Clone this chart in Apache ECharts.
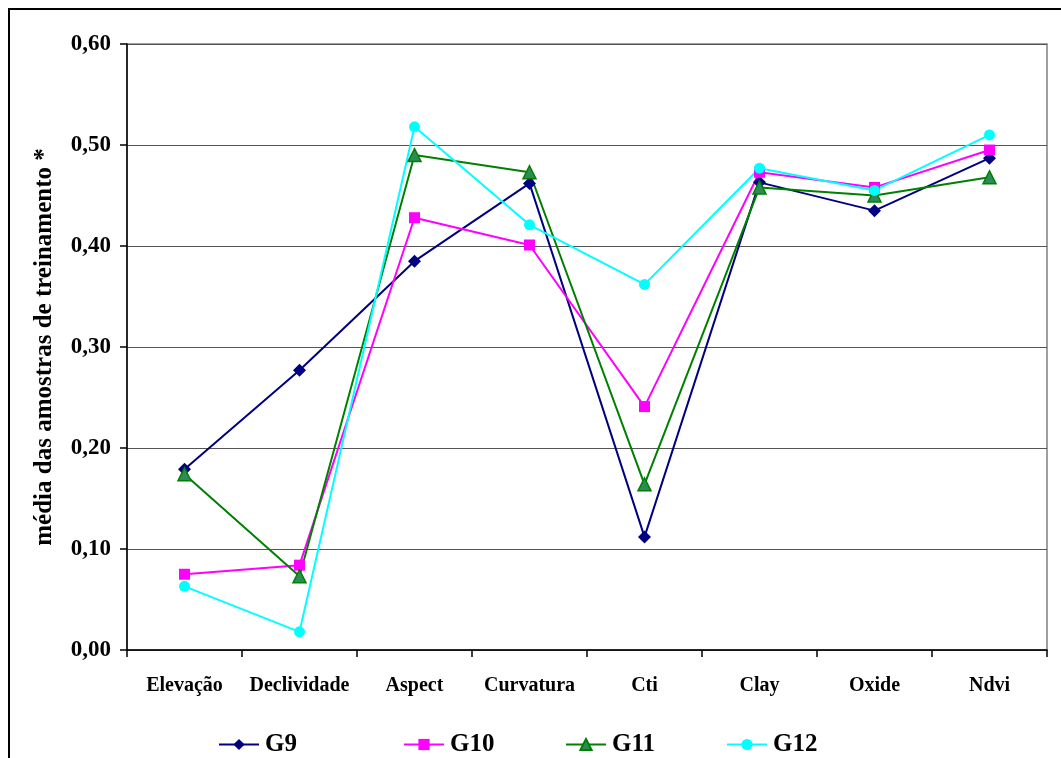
<!DOCTYPE html>
<html>
<head>
<meta charset="utf-8">
<script src="https://cdn.jsdelivr.net/npm/echarts@6/dist/echarts.min.js"></script>
<style>
  html, body { margin: 0; padding: 0; background: #fff; }
  #chart { width: 1061px; height: 758px; }
</style>
</head>
<body>
<div id="chart"></div>
<script>
// Variables (categories) and mean training-sample values per group
const categories = ['Elevação', 'Declividade', 'Aspect', 'Curvatura', 'Cti', 'Clay', 'Oxide', 'Ndvi'];
const g9  = [0.179, 0.277, 0.385, 0.462, 0.112, 0.463, 0.435, 0.487];
const g10 = [0.075, 0.084, 0.428, 0.401, 0.241, 0.473, 0.458, 0.495];
const g11 = [0.174, 0.073, 0.490, 0.473, 0.164, 0.458, 0.450, 0.468];
const g12 = [0.063, 0.018, 0.518, 0.421, 0.362, 0.477, 0.455, 0.510];
const yTicks = [0, 0.1, 0.2, 0.3, 0.4, 0.5, 0.6];

const FONT = '"Liberation Serif", "Times New Roman", serif';

const chart = echarts.init(document.getElementById('chart'), null, { renderer: 'canvas' });

function makeSeries(name, data, symbol, size, lineColor, fillColor) {
  return {
    name: name,
    type: 'line',
    data: data,
    symbol: symbol,
    symbolSize: size,
    showAllSymbol: true,
    lineStyle: { color: lineColor, width: 2 },
    itemStyle: { color: fillColor, borderColor: lineColor, borderWidth: symbol === 'triangle' ? 1.5 : 0 },
    emphasis: { disabled: true },
    animation: false,
    z: 3
  };
}

function makeLegend(name, left) {
  return {
    data: [name],
    left: left,
    top: 727,
    itemWidth: 40,
    itemHeight: 14,
    itemGap: 0,
    textStyle: { fontFamily: FONT, fontWeight: 'bold', fontSize: 25, color: '#000', padding: [0, 0, 0, 1] }
  };
}

chart.setOption({
  backgroundColor: '#fff',
  animation: false,
  graphic: [{
    type: 'rect',
    shape: { x: 9, y: 9, width: 1200, height: 900 },
    style: { fill: 'none', stroke: '#000', lineWidth: 2 },
    silent: true,
    z: -1
  }],
  grid: {
    left: 127, top: 44, right: 14, bottom: 108,
    show: true, borderColor: '#808080', borderWidth: 1.5, backgroundColor: 'transparent'
  },
  legend: [
    makeLegend('G9', 213),
    makeLegend('G10', 398),
    makeLegend('G11', 560),
    makeLegend('G12', 721)
  ],
  xAxis: {
    type: 'category',
    data: categories,
    boundaryGap: true,
    axisLine: { show: true, lineStyle: { color: '#000', width: 1.5 } },
    axisTick: { show: true, length: 7, interval: 0, lineStyle: { color: '#000', width: 1.5 } },
    axisLabel: {
      interval: 0, margin: 26,
      fontFamily: FONT, fontWeight: 'bold', fontSize: 20, color: '#000'
    },
    splitLine: { show: false }
  },
  yAxis: {
    type: 'value',
    min: yTicks[0],
    max: yTicks[yTicks.length - 1],
    interval: 0.1,
    name: 'média das amostras de treinamento *',
    nameLocation: 'middle',
    nameGap: 70,
    nameRotate: 90,
    nameTextStyle: { fontFamily: FONT, fontWeight: 'bold', fontSize: 25, color: '#000' },
    axisLine: { show: true, lineStyle: { color: '#000', width: 1.5 } },
    axisTick: { show: true, length: 7, lineStyle: { color: '#000', width: 1.5 } },
    axisLabel: {
      margin: 16,
      fontFamily: FONT, fontWeight: 'bold', fontSize: 23, color: '#000',
      formatter: v => v.toFixed(2).replace('.', ',')
    },
    splitLine: { show: true, lineStyle: { color: '#555', width: 1.2 } }
  },
  series: [
    makeSeries('G9', g9, 'diamond', 13, '#000080', '#000080'),
    makeSeries('G10', g10, 'rect', 11, '#FF00FF', '#FF00FF'),
    makeSeries('G11', g11, 'triangle', 13, '#008000', '#2E8B57'),
    makeSeries('G12', g12, 'circle', 11, '#00FFFF', '#00FFFF')
  ]
});
</script>
</body>
</html>
